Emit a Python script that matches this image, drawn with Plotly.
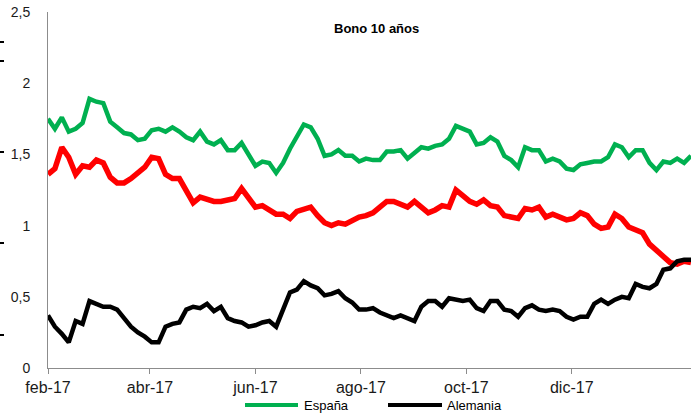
import pandas as pd
import plotly.graph_objects as go

# ---- data ----
dates = pd.date_range("2017-02-01", periods=94, freq="4D")

espana = [1.75, 1.68, 1.76, 1.66, 1.68, 1.72, 1.89, 1.87, 1.86, 1.73,
          1.69, 1.65, 1.64, 1.60, 1.61, 1.67, 1.68, 1.66, 1.69, 1.66,
          1.62, 1.60, 1.66, 1.59, 1.57, 1.60, 1.53, 1.53, 1.58, 1.50,
          1.42, 1.45, 1.44, 1.37, 1.44, 1.54, 1.62, 1.71, 1.69, 1.61,
          1.49, 1.50, 1.53, 1.49, 1.49, 1.45, 1.47, 1.46, 1.46, 1.52,
          1.52, 1.53, 1.47, 1.51, 1.55, 1.54, 1.56, 1.57, 1.61, 1.70,
          1.68, 1.66, 1.57, 1.58, 1.62, 1.59, 1.49, 1.46, 1.41, 1.55,
          1.53, 1.53, 1.45, 1.47, 1.45, 1.40, 1.39, 1.43, 1.44, 1.45,
          1.45, 1.48, 1.57, 1.55, 1.48, 1.53, 1.53, 1.44, 1.39, 1.45,
          1.44, 1.47, 1.44, 1.49]

italia = [1.36, 1.40, 1.55, 1.48, 1.36, 1.42, 1.41, 1.46, 1.44, 1.34,
          1.30, 1.30, 1.33, 1.37, 1.41, 1.48, 1.47, 1.36, 1.33, 1.33,
          1.24, 1.16, 1.20, 1.18, 1.17, 1.17, 1.18, 1.19, 1.26, 1.20,
          1.13, 1.14, 1.11, 1.08, 1.08, 1.05, 1.10, 1.12, 1.13, 1.07,
          1.02, 1.00, 1.02, 1.01, 1.04, 1.06, 1.07, 1.09, 1.13, 1.17,
          1.17, 1.15, 1.13, 1.17, 1.13, 1.09, 1.11, 1.14, 1.13, 1.25,
          1.21, 1.17, 1.15, 1.18, 1.14, 1.13, 1.07, 1.06, 1.05, 1.12,
          1.11, 1.13, 1.06, 1.08, 1.06, 1.04, 1.05, 1.09, 1.07, 1.01,
          0.98, 0.99, 1.08, 1.05, 0.99, 0.97, 0.95, 0.87, 0.83, 0.79,
          0.74, 0.73, 0.75, 0.74]

alemania = [0.37, 0.29, 0.24, 0.18, 0.33, 0.31, 0.47, 0.45, 0.43, 0.43,
            0.41, 0.35, 0.29, 0.25, 0.22, 0.18, 0.18, 0.29, 0.31, 0.32,
            0.41, 0.43, 0.42, 0.45, 0.40, 0.43, 0.35, 0.33, 0.32, 0.29,
            0.30, 0.32, 0.33, 0.29, 0.41, 0.53, 0.55, 0.61, 0.58, 0.56,
            0.51, 0.52, 0.54, 0.49, 0.46, 0.41, 0.41, 0.42, 0.39, 0.37,
            0.35, 0.37, 0.35, 0.33, 0.43, 0.47, 0.47, 0.43, 0.49, 0.48,
            0.47, 0.48, 0.42, 0.40, 0.47, 0.47, 0.41, 0.40, 0.36, 0.42,
            0.44, 0.41, 0.40, 0.41, 0.40, 0.36, 0.34, 0.36, 0.36, 0.45,
            0.48, 0.45, 0.48, 0.50, 0.49, 0.59, 0.57, 0.56, 0.59, 0.69,
            0.70, 0.75, 0.76, 0.76]

x_tick_vals = ["2017-02-01", "2017-04-01", "2017-06-01", "2017-08-01", "2017-10-01", "2017-12-01"]
x_tick_text = ["feb-17", "abr-17", "jun-17", "ago-17", "oct-17", "dic-17"]
y_tick_vals = [0, 0.5, 1, 1.5, 2, 2.5]
y_tick_text = ["0", "0,5", "1", "1,5", "2", "2,5"]

GREEN = "#00B050"
RED = "#FF0000"
BLACK = "#000000"

fig = go.Figure()
fig.add_trace(go.Scatter(x=dates, y=italia, mode="lines", name="Italia",
                         line=dict(color=RED, width=5.5), showlegend=False))
fig.add_trace(go.Scatter(x=dates, y=espana, mode="lines", name="España",
                         line=dict(color=GREEN, width=4.5), showlegend=False))
fig.add_trace(go.Scatter(x=dates, y=alemania, mode="lines", name="Alemania",
                         line=dict(color=BLACK, width=4.5), showlegend=False))

def px2paper_x(p):
    return (p - 48) / 643.0

def px2paper_y(p):
    return (368 - p) / 356.0

shapes = []
# custom legend samples
ly = px2paper_y(405)
shapes.append(dict(type="line", xref="paper", yref="paper", x0=px2paper_x(245), x1=px2paper_x(298),
                   y0=ly, y1=ly, line=dict(color=GREEN, width=4)))
shapes.append(dict(type="line", xref="paper", yref="paper", x0=px2paper_x(388), x1=px2paper_x(442),
                   y0=ly, y1=ly, line=dict(color=BLACK, width=4)))
# small marks at the left edge
for py in [42, 61, 152, 243, 335]:
    shapes.append(dict(type="line", xref="paper", yref="paper", x0=px2paper_x(0), x1=px2paper_x(4),
                       y0=px2paper_y(py), y1=px2paper_y(py), line=dict(color=BLACK, width=2)))

annotations = [
    dict(text="<b>Bono 10 años</b>", xref="paper", yref="paper", x=px2paper_x(376), y=px2paper_y(28),
         showarrow=False, font=dict(family="Liberation Sans, Arial", size=13, color="#000000"),
         xanchor="center", yanchor="middle"),
    dict(text="España", xref="paper", yref="paper", x=px2paper_x(302), y=ly, showarrow=False,
         font=dict(family="Liberation Sans, Arial", size=13, color="#000000"), xanchor="left", yanchor="middle"),
    dict(text="Alemania", xref="paper", yref="paper", x=px2paper_x(445), y=ly, showarrow=False,
         font=dict(family="Liberation Sans, Arial", size=13, color="#000000"), xanchor="left", yanchor="middle"),
]

fig.update_layout(
    width=691, height=414,
    margin=dict(l=48, r=0, t=12, b=46),
    plot_bgcolor="white", paper_bgcolor="white",
    shapes=shapes, annotations=annotations,
    showlegend=False,
)
fig.update_xaxes(
    type="date", range=[dates[0], dates[-1]], automargin=False,
    tickvals=x_tick_vals, ticktext=x_tick_text,
    showgrid=False, zeroline=False,
    showline=True, linecolor="#8C8C8C", linewidth=1,
    ticks="outside", ticklen=5, tickcolor="#8C8C8C",
    tickfont=dict(family="Liberation Sans, Arial", size=16, color="#1a1a1a"),
)
fig.update_yaxes(
    range=[0, 2.5], automargin=False, tickvals=y_tick_vals, ticktext=y_tick_text,
    showgrid=False, zeroline=False,
    showline=True, linecolor="#8C8C8C", linewidth=1,
    ticks="", ticklabelstandoff=14,
    tickfont=dict(family="Liberation Sans, Arial", size=14, color="#1a1a1a"),
)

fig.write_html("out.html", config={"displayModeBar": False},
               post_script="document.body.style.margin='0';document.body.style.overflow='hidden';")
